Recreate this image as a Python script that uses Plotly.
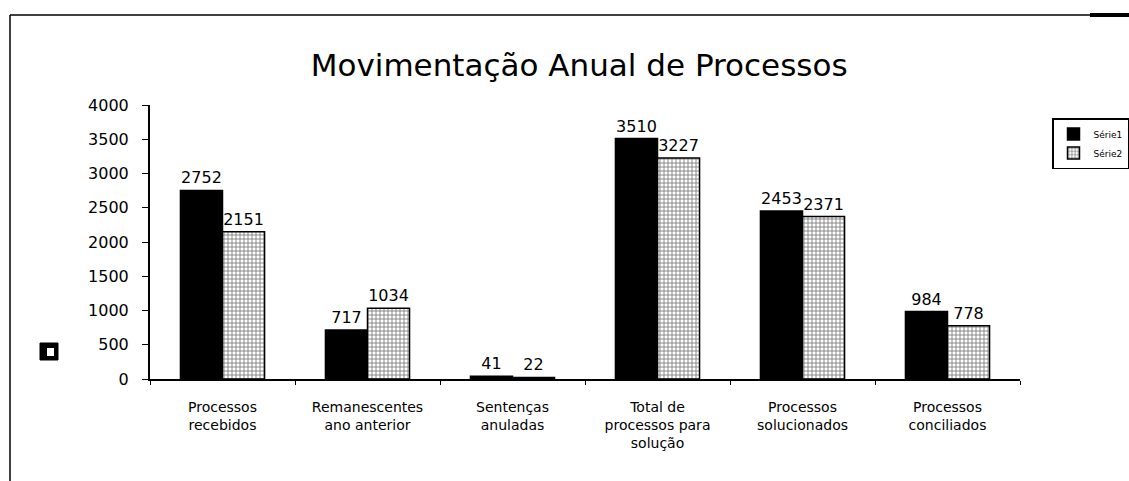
import plotly.graph_objects as go

categories = ["Processos<br>recebidos", "Remanescentes<br>ano anterior", "Sentenças<br>anuladas",
              "Total de<br>processos para<br>solução", "Processos<br>solucionados", "Processos<br>conciliados"]
serie1 = [2752, 717, 41, 3510, 2453, 984]
serie2 = [2151, 1034, 22, 3227, 2371, 778]
y_ticks = [0, 500, 1000, 1500, 2000, 2500, 3000, 3500, 4000]

FONT = "DejaVu Sans"
L, R, T, B = 150, 109, 105, 102
PW, PH = 1129 - L - R, 481 - T - B


def px(x):
    return (x - L) / PW


def py(y):
    return (481 - B - y) / PH


fig = go.Figure()
fig.add_trace(go.Bar(
    x=categories, y=serie1, name="Série1",
    marker=dict(color="black", line=dict(color="black", width=1.5)),
    text=serie1, textposition="outside", cliponaxis=False,
    textfont=dict(family=FONT, size=16, color="black"),
))
fig.add_trace(go.Bar(
    x=categories, y=serie2, name="Série2",
    marker=dict(color="white", line=dict(color="black", width=1.5),
                pattern=dict(shape="+", fgcolor="black", bgcolor="white", size=4, solidity=0.4)),
    text=serie2, textposition="outside", cliponaxis=False,
    textfont=dict(family=FONT, size=16, color="black"),
))

fig.update_layout(
    width=1129, height=481,
    paper_bgcolor="white", plot_bgcolor="white",
    margin=dict(l=L, r=R, t=T, b=B, autoexpand=False),
    barmode="group", bargap=0.42, bargroupgap=0,
    title=dict(text="Movimentação Anual de Processos", x=0.513, xanchor="center",
               y=1 - 65 / 481, yanchor="middle",
               font=dict(family=FONT, size=31, color="black")),
    font=dict(family=FONT, color="black"),
    legend=dict(x=px(1052), y=py(118), xanchor="left", yanchor="top",
                bordercolor="black", borderwidth=1.5, bgcolor="white",
                font=dict(family=FONT, size=9, color="black"),
                itemwidth=30, tracegroupgap=0),
    xaxis=dict(showline=True, linecolor="black", linewidth=2, ticks="outside",
               tickson="boundaries", ticklen=4, tickcolor="black",
               ticklabelstandoff=14,
               tickfont=dict(family=FONT, size=14, color="black"),
               showgrid=False),
    yaxis=dict(range=[0, 4000], tickvals=y_ticks, showline=True, linecolor="black",
               linewidth=2, ticks="outside", ticklen=6, tickcolor="black",
               ticklabelstandoff=10,
               tickfont=dict(family=FONT, size=16, color="black"),
               showgrid=False, zeroline=False),
    shapes=[
        dict(type="line", xref="paper", yref="paper",
             x0=px(10), x1=px(1090), y0=py(15), y1=py(15),
             line=dict(color="black", width=1.5)),
        dict(type="line", xref="paper", yref="paper",
             x0=px(10), x1=px(10), y0=py(15), y1=py(481),
             line=dict(color="black", width=1.5)),
        dict(type="line", xref="paper", yref="paper",
             x0=px(1090), x1=px(1129), y0=py(15), y1=py(15),
             line=dict(color="black", width=4)),
        dict(type="rect", xref="paper", yref="paper",
             x0=px(40), x1=px(58), y0=py(360), y1=py(343),
             fillcolor="black", line=dict(color="black", width=1)),
        dict(type="rect", xref="paper", yref="paper",
             x0=px(47), x1=px(54), y0=py(356), y1=py(348),
             fillcolor="white", line=dict(color="white", width=0)),
    ],
)

fig.write_html("out.html", config={"displayModeBar": False},
               post_script="document.body.style.margin='0';document.body.style.overflow='hidden';")
